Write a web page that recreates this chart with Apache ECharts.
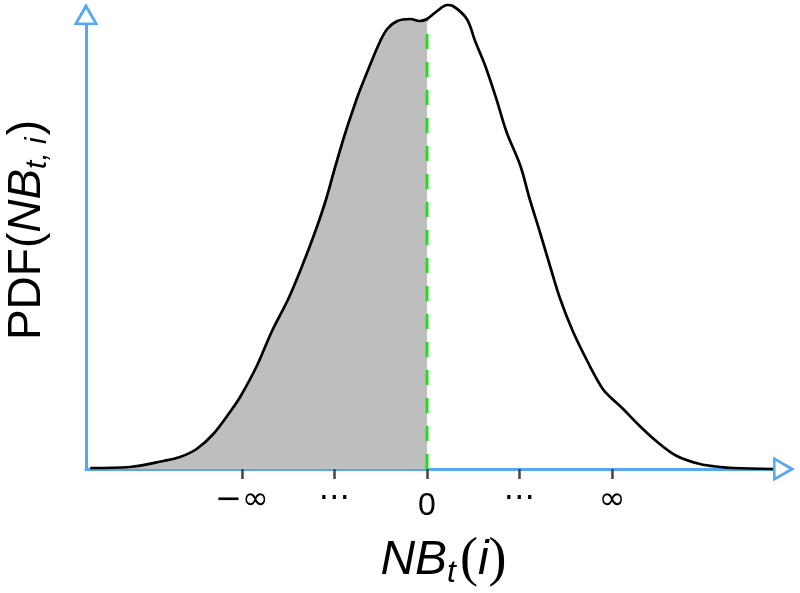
<!DOCTYPE html>
<html>
<head>
<meta charset="utf-8">
<script src="https://cdn.jsdelivr.net/npm/echarts@6/dist/echarts.min.js"></script>
<style>html,body{margin:0;padding:0;background:#fff}#c{width:800px;height:593px}</style>
</head>
<body>
<div id="c"></div>
<script>
// Curve samples
const xValues = [-3.64,-3.21,-2.85,-2.67,-2.49,-2.31,-2.13,-2.02,-1.84,-1.68,-1.50,-1.35,-1.21,-1.09,-0.99,-0.88,-0.76,-0.72,-0.62,-0.51,-0.43,-0.32,-0.18,-0.08,0.00,0.11,0.22,0.28,0.43,0.52,0.63,0.75,0.86,1.01,1.11,1.22,1.33,1.44,1.58,1.76,1.90,1.98,2.12,2.30,2.49,2.70,2.95,3.17,3.31,3.74];
const pdfValues = [0.001,0.002,0.008,0.012,0.020,0.035,0.057,0.072,0.103,0.137,0.170,0.203,0.237,0.270,0.303,0.337,0.370,0.380,0.403,0.427,0.440,0.448,0.450,0.448,0.450,0.458,0.464,0.463,0.450,0.428,0.403,0.370,0.337,0.303,0.270,0.237,0.203,0.170,0.137,0.103,0.080,0.072,0.060,0.043,0.027,0.013,0.005,0.002,0.001,0.000];
const tickValues = [-2,-1,0,1,2];
const tickLabels = ['{inf|\u2212\u221E}','{dots|\u22EF}','{zero|0}','{dots|\u22EF}','{inf|\u221E}'];
const xRange = [-3.686, 3.74];
const yRange = [0, 0.444];
const cutoff = 0;

const curve = xValues.map((x,i)=>[x,pdfValues[i]]);
const shaded = curve.filter(p=>p[0] <= cutoff);
const cutoffY = pdfValues[xValues.indexOf(cutoff)];

const blue = '#56a9f1';
const hollowArrow = 'path://M12 0 L24 21 L0 21 Z M12 5.6 L4.4 18.6 L19.6 18.6 Z';

const chart = echarts.init(document.getElementById('c'), null, {renderer:'canvas'});
chart.setOption({
  animation:false,
  backgroundColor:'#ffffff',
  grid:{left:86, right:27, top:25, bottom:124, outerBoundsMode:'none', containLabel:false},
  xAxis:{
    type:'value', min:xRange[0], max:xRange[1],
    axisLine:{show:true, onZero:false, lineStyle:{color:blue, width:3},
      symbol:['none', hollowArrow], symbolSize:[25,22], symbolOffset:[0,11]},
    axisTick:{show:true, inside:false, length:10, customValues:tickValues, lineStyle:{color:'#444', width:2.5}},
    axisLabel:{show:true, customValues:tickValues, margin:14, color:'#000',
      fontFamily:'DejaVu Sans', fontSize:32,
      rich:{
        inf:{fontFamily:'DejaVu Sans', fontSize:32, color:'#000', padding:[2,0,0,0]},
        dots:{fontFamily:'DejaVu Sans', fontSize:32, color:'#000'},
        zero:{fontFamily:'Liberation Sans', fontSize:32, color:'#000', padding:[7,0,0,0]}
      },
      formatter:(v)=>{ const i = tickValues.indexOf(Math.round(v)); return i>=0 ? tickLabels[i] : ''; }},
    splitLine:{show:false},
    name:'{it|NB}{sub|t}{par|(}{it|i}{par|)}',
    nameLocation:'middle', nameGap:64,
    nameTextStyle:{padding:[0,0,0,28], rich:{
      it:{fontFamily:'Liberation Sans', fontStyle:'italic', fontSize:48, color:'#000'},
      sub:{fontFamily:'Liberation Sans', fontStyle:'italic', fontSize:32, color:'#000', padding:[24,4,0,0]},
      par:{fontFamily:'Liberation Serif', fontSize:54, color:'#000'}
    }}
  },
  yAxis:{
    type:'value', min:yRange[0], max:yRange[1],
    axisLine:{show:true, onZero:false, lineStyle:{color:blue, width:3},
      symbol:['none', hollowArrow], symbolSize:[25,22], symbolOffset:[0,11]},
    axisTick:{show:false}, axisLabel:{show:false}, splitLine:{show:false},
    name:'{up|PDF(}{it|NB}{sub|t, i}{up|)}',
    nameLocation:'middle', nameRotate:90, nameGap:33,
    nameTextStyle:{padding:[0,0,0,34], rich:{
      up:{fontFamily:'Liberation Sans', fontSize:46, color:'#000'},
      it:{fontFamily:'Liberation Sans', fontStyle:'italic', fontSize:46, color:'#000'},
      sub:{fontFamily:'Liberation Sans', fontStyle:'italic', fontSize:30, color:'#000', padding:[22,2,0,0]}
    }}
  },
  series:[
    {type:'line', data:shaded, smooth:0.35, showSymbol:false, clip:false, silent:true,
      lineStyle:{width:0, color:'#bebebe'}, areaStyle:{color:'#bebebe', opacity:1}, z:1},
    {type:'line', data:[[cutoff,0],[cutoff,cutoffY]], showSymbol:false, clip:false, silent:true,
      lineStyle:{color:'#22dd22', width:3, type:[15,13]}, z:2},
    {type:'line', data:curve, smooth:0.35, showSymbol:false, clip:false, silent:true,
      lineStyle:{width:2.7, color:'#000'}, z:3}
  ]
});
</script>
</body>
</html>
